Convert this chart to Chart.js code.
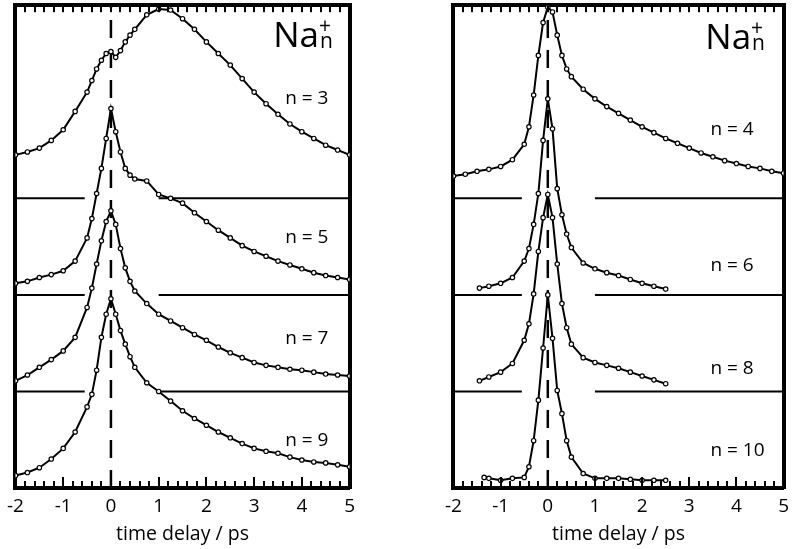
<!DOCTYPE html>
<html>
<head>
<meta charset="utf-8">
<script src="https://cdn.jsdelivr.net/npm/chart.js@4.4.1/dist/chart.umd.min.js"></script>
<style>
	body { margin: 0; background: #fff; }
	#wrap { position: relative; width: 796px; height: 549px; overflow: hidden; }
	.panel { position: absolute; top: 0; }
	#left { left: 0; }
	#right { left: 438px; }
</style>
</head>
<body>
<div id="wrap">
	<div class="panel" id="left"><canvas id="chartLeft" width="362" height="549"></canvas></div>
	<div class="panel" id="right"><canvas id="chartRight" width="358" height="549"></canvas></div>
</div>
<script>
	"use strict";

	// time delays (ps)
	var timeFull = [-2, -1.75, -1.5, -1.25, -1, -0.75, -0.5, -0.4, -0.3, -0.2, -0.1, 0, 0.1, 0.2, 0.3, 0.4, 0.5, 0.75, 1, 1.25, 1.5, 1.75, 2, 2.25, 2.5, 2.75, 3, 3.25, 3.5, 3.75, 4, 4.25, 4.5, 4.75, 5];
	var timeShort = [-1.45, -1.25, -1, -0.75, -0.5, -0.4, -0.3, -0.2, -0.1, 0, 0.1, 0.2, 0.3, 0.4, 0.5, 0.75, 1, 1.25, 1.5, 1.75, 2, 2.25, 2.5];
	var timeTen = [-1.35, -1.25, -1, -0.75, -0.5, -0.4, -0.3, -0.2, -0.1, 0, 0.1, 0.2, 0.3, 0.4, 0.5, 0.75, 1, 1.25, 1.5, 1.75, 2, 2.25, 2.5];

	// signals, already stacked (vertical offset included)
	var n3 = [3.45, 3.48, 3.52, 3.6, 3.71, 3.9, 4.1, 4.22, 4.34, 4.43, 4.5, 4.52, 4.46, 4.53, 4.62, 4.69, 4.75, 4.9, 4.96, 4.95, 4.86, 4.75, 4.62, 4.5, 4.38, 4.24, 4.1, 3.98, 3.87, 3.77, 3.69, 3.62, 3.55, 3.5, 3.45];
	var n5 = [2.12, 2.14, 2.18, 2.21, 2.25, 2.35, 2.59, 2.79, 3.05, 3.31, 3.62, 3.93, 3.69, 3.48, 3.31, 3.24, 3.2, 3.18, 3.04, 3.0, 2.95, 2.85, 2.76, 2.67, 2.59, 2.51, 2.45, 2.4, 2.35, 2.31, 2.27, 2.23, 2.2, 2.18, 2.16];
	var n7 = [1.11, 1.17, 1.25, 1.33, 1.42, 1.56, 1.87, 2.07, 2.32, 2.56, 2.76, 2.87, 2.73, 2.48, 2.28, 2.14, 2.04, 1.91, 1.8, 1.73, 1.66, 1.59, 1.53, 1.46, 1.4, 1.35, 1.3, 1.27, 1.25, 1.23, 1.22, 1.2, 1.18, 1.17, 1.16];
	var n9 = [0.13, 0.16, 0.21, 0.3, 0.41, 0.58, 0.84, 0.97, 1.22, 1.56, 1.8, 1.96, 1.8, 1.63, 1.49, 1.36, 1.25, 1.09, 1.0, 0.9, 0.8, 0.72, 0.65, 0.58, 0.52, 0.46, 0.41, 0.38, 0.36, 0.32, 0.29, 0.27, 0.26, 0.24, 0.22];
	var n4 = [3.23, 3.25, 3.28, 3.3, 3.33, 3.4, 3.56, 3.74, 4.07, 4.48, 4.82, 4.98, 4.93, 4.69, 4.48, 4.34, 4.26, 4.13, 4.03, 3.95, 3.88, 3.81, 3.74, 3.68, 3.62, 3.57, 3.52, 3.47, 3.43, 3.39, 3.36, 3.33, 3.31, 3.28, 3.26];
	var n6 = [2.07, 2.09, 2.12, 2.18, 2.35, 2.48, 2.73, 3.05, 3.6, 4.03, 3.72, 3.1, 2.83, 2.63, 2.49, 2.33, 2.27, 2.23, 2.2, 2.16, 2.12, 2.09, 2.06];
	var n8 = [1.11, 1.15, 1.2, 1.29, 1.53, 1.7, 2.01, 2.45, 2.8, 3.04, 2.8, 2.32, 1.91, 1.66, 1.49, 1.35, 1.3, 1.27, 1.24, 1.2, 1.16, 1.12, 1.08];
	var n10 = [0.11, 0.1, 0.08, 0.1, 0.11, 0.22, 0.49, 0.91, 1.45, 2.0, 1.55, 1.01, 0.77, 0.49, 0.32, 0.15, 0.1, 0.1, 0.1, 0.09, 0.08, 0.08, 0.08];

	var xTicks = [-2, -1, 0, 1, 2, 3, 4, 5];
	var separatorLevels = [1, 2, 3];
	var separatorGap = [-0.55, 1.0];

	var labelsLeft = ["n = 3", "n = 5", "n = 7", "n = 9"];
	var labelsRight = ["n = 4", "n = 6", "n = 8", "n = 10"];

	function traceDataset(times, values) {
		return {
			data: times.map(function(t, i) { return { x: t, y: values[i] }; }),
			showLine: true,
			borderColor: "#000",
			borderWidth: 2,
			pointRadius: 2.2,
			pointBorderWidth: 1.2,
			pointBorderColor: "#000",
			pointBackgroundColor: "#fff"
		};
	}

	function lineDataset(points, width, dash) {
		return {
			data: points,
			showLine: true,
			borderColor: "#000",
			borderWidth: width,
			borderDash: dash || [],
			pointRadius: 0
		};
	}

	function separatorDatasets() {
		var out = [];
		separatorLevels.forEach(function(level) {
			out.push(lineDataset([{ x: xTicks[0], y: level }, { x: separatorGap[0], y: level }], 2));
			out.push(lineDataset([{ x: separatorGap[1], y: level }, { x: xTicks[xTicks.length - 1], y: level }], 2));
		});
		return out;
	}

	// inward tick marks on top and bottom frame, plus text annotations
	var framePlugin = {
		id: "frame",
		afterDraw: function(chart) {
			var ctx = chart.ctx;
			var xs = chart.scales.x;
			var ys = chart.scales.y;
			var area = chart.chartArea;
			var opts = chart.options.plugins.frame;

			ctx.save();
			ctx.setLineDash([]);
			ctx.fillStyle = "#000";
			for (var k = 1; k < 35; k++) {
				var px = Math.round(xs.getPixelForValue(-2 + k * 0.2));
				var len = k % 5 === 0 ? 11 : 7;
				ctx.fillRect(px - 1, area.bottom - len, 2, len);
				ctx.fillRect(px - 1, area.top, 2, 7);
			}

			ctx.textBaseline = "middle";
			ctx.textAlign = "left";
			ctx.font = "19px 'Open Sans'";
			opts.labels.forEach(function(text, i) {
				ctx.fillText(text, xs.getPixelForValue(opts.labelX), ys.getPixelForValue(opts.labelY[i]));
			});

			// Na_n^+
			var nx = xs.getPixelForValue(opts.naX);
			var ny = ys.getPixelForValue(opts.naY);
			ctx.textBaseline = "alphabetic";
			ctx.font = "35px 'Open Sans'";
			ctx.fillText("Na", nx, ny);
			var w = ctx.measureText("Na").width;
			ctx.font = "21px 'Open Sans'";
			ctx.fillText("+", nx + w, ny - 14);
			ctx.fillText("n", nx + w + 1, ny + 1);
			ctx.restore();
		}
	};

	function buildChart(canvasId, traces, opts, pad) {
		var datasets = traces.concat(separatorDatasets());
		datasets.push(lineDataset([{ x: 0, y: 0 }, { x: 0, y: 5 }], 2.5, [18, 12]));

		var hidden = {
			display: true,
			ticks: { display: false },
			grid: { display: false, drawTicks: false },
			border: { display: true, width: 4, color: "#000" }
		};

		return new Chart(document.getElementById(canvasId), {
			type: "scatter",
			data: { datasets: datasets },
			options: {
				responsive: false,
				animation: false,
				layout: { padding: pad },
				plugins: {
					legend: { display: false },
					tooltip: { enabled: false },
					frame: opts
				},
				scales: {
					x: {
						type: "linear",
						min: xTicks[0],
						max: xTicks[xTicks.length - 1],
						afterBuildTicks: function(scale) {
							scale.ticks = xTicks.map(function(v) { return { value: v }; });
						},
						afterFit: function(scale) { scale.height = 58; },
						ticks: { color: "#000", padding: 7, font: { family: "'Open Sans'", size: 19 } },
						grid: { display: false, drawTicks: false },
						border: { display: true, width: 4, color: "#000" },
						title: {
							display: true,
							text: "time delay / ps",
							color: "#000",
							padding: { top: 0, bottom: 0 },
							font: { family: "'Open Sans'", size: 19.5 }
						}
					},
					x2: Object.assign({ type: "linear", position: "top", min: -2, max: 5,
						afterFit: function(scale) { scale.height = 0; } }, hidden),
					y: Object.assign({ type: "linear", position: "left", min: 0, max: 5,
						afterFit: function(scale) { scale.width = 0; } }, hidden),
					y2: Object.assign({ type: "linear", position: "right", min: 0, max: 5,
						afterFit: function(scale) { scale.width = 0; } }, hidden)
				}
			},
			plugins: [framePlugin]
		});
	}

	buildChart("chartLeft", [
		traceDataset(timeFull, n3),
		traceDataset(timeFull, n5),
		traceDataset(timeFull, n7),
		traceDataset(timeFull, n9)
	], { labels: labelsLeft, labelX: 3.65, labelY: [4.03, 2.59, 1.55, 0.49], naX: 3.4, naY: 4.57 },
	{ left: 12, right: 12, top: 3, bottom: 3 });

	buildChart("chartRight", [
		traceDataset(timeFull, n4),
		traceDataset(timeShort, n6),
		traceDataset(timeShort, n8),
		traceDataset(timeTen, n10)
	], { labels: labelsRight, labelX: 3.45, labelY: [3.71, 2.3, 1.24, 0.39], naX: 3.34, naY: 4.55 },
	{ left: 12, right: 7, top: 3, bottom: 3 });
</script>
</body>
</html>
